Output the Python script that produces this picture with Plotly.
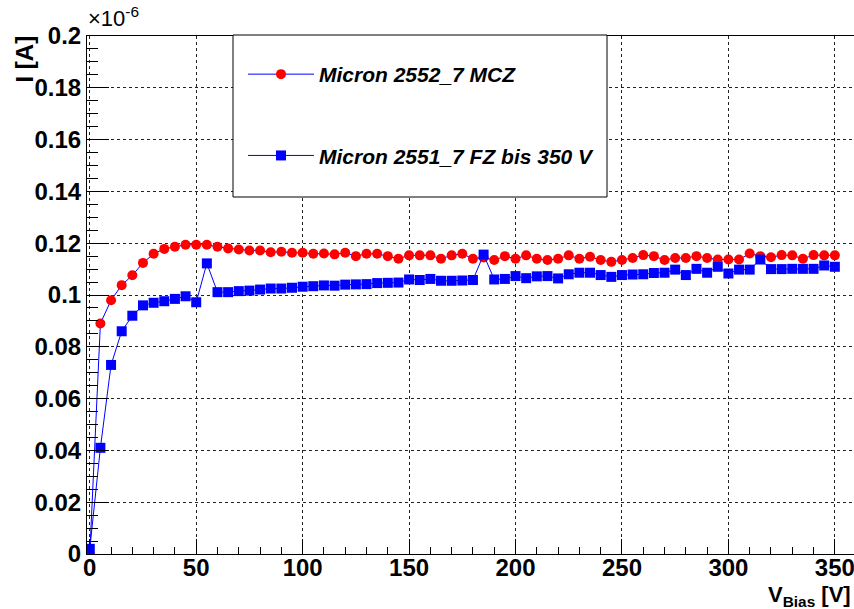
import plotly.graph_objects as go

# Bias voltage [V]
v_bias = list(range(0, 355, 5))

# Current in units of 1e-6 A
i_mcz = [0.000, 0.089, 0.098, 0.1038, 0.1076, 0.1124, 0.1159, 0.1178, 0.1186, 0.1194,
         0.1194, 0.1194, 0.1186, 0.1180, 0.1176, 0.1172, 0.1172, 0.1165, 0.1167, 0.1163,
         0.1163, 0.1159, 0.1160, 0.1157, 0.1163, 0.1150, 0.1159, 0.1159, 0.1150, 0.1140,
         0.1153, 0.1153, 0.1153, 0.1140, 0.1153, 0.1159, 0.1140, 0.1145, 0.1135, 0.1150,
         0.1140, 0.1153, 0.1140, 0.1135, 0.1140, 0.1153, 0.1140, 0.1148, 0.1135, 0.1128,
         0.1135, 0.1143, 0.1154, 0.1150, 0.1135, 0.1143, 0.1143, 0.1150, 0.1143, 0.1137,
         0.1137, 0.1137, 0.1160, 0.1150, 0.1146, 0.1154, 0.1153, 0.1140, 0.1154, 0.1153,
         0.1153]

i_fz = [0.002, 0.041, 0.073, 0.086, 0.092, 0.096, 0.097, 0.0976, 0.0985, 0.0995,
        0.0972, 0.1122, 0.1011, 0.1011, 0.1015, 0.1017, 0.1021, 0.1025, 0.1025, 0.1028,
        0.1032, 0.1034, 0.1037, 0.1036, 0.1040, 0.1041, 0.1042, 0.1046, 0.1047, 0.1048,
        0.1060, 0.1058, 0.1062, 0.1055, 0.1055, 0.1056, 0.1058, 0.1156, 0.1060, 0.1062,
        0.1073, 0.1065, 0.1072, 0.1073, 0.1064, 0.1080, 0.1086, 0.1086, 0.1077, 0.1070,
        0.1077, 0.1079, 0.1080, 0.1085, 0.1086, 0.1098, 0.1077, 0.1101, 0.1086, 0.1109,
        0.1083, 0.1098, 0.1098, 0.1137, 0.1100, 0.1100, 0.1101, 0.1101, 0.1101, 0.1114,
        0.1109]

series_names = ["Micron 2552_7 MCZ", "Micron 2551_7 FZ bis 350 V"]

y_tickvals = [0, 0.02, 0.04, 0.06, 0.08, 0.1, 0.12, 0.14, 0.16, 0.18, 0.2]
y_ticktext = ["0", "0.02", "0.04", "0.06", "0.08", "0.1", "0.12", "0.14", "0.16", "0.18", "0.2"]
x_tickvals = [0, 50, 100, 150, 200, 250, 300, 350]

FONT = "Liberation Sans"
W, H = 854, 609
ML, MR, MT, MB = 87, 0, 36, 55
PW, PH = W - ML - MR, H - MT - MB

def px_x(p):
    return (p - ML) / PW

def px_y(p):
    return (H - MB - p) / PH

fig = go.Figure()
fig.add_trace(go.Scatter(
    x=v_bias, y=i_mcz, name=series_names[0], legendgroup="a", mode="lines+markers",
    line=dict(color="#0000ff", width=1),
    marker=dict(symbol="circle", size=10, color="#ff0000", line=dict(width=0)),
))
fig.add_trace(go.Scatter(
    x=v_bias, y=i_fz, name=series_names[1], legendgroup="b", mode="lines+markers",
    line=dict(color="#0000ff", width=1),
    marker=dict(symbol="square", size=10, color="#0000ff", line=dict(width=0)),
))

tickfont = dict(family=FONT, size=24, color="black", weight="bold")

fig.update_layout(
    width=W, height=H,
    margin=dict(l=ML, r=MR, t=MT, b=MB, pad=0, autoexpand=False),
    paper_bgcolor="white", plot_bgcolor="white",
    showlegend=True,
    legend=dict(
        x=px_x(243), y=px_y(54), xanchor="left", yanchor="top",
        bgcolor="rgba(0,0,0,0)", borderwidth=0,
        font=dict(family=FONT, size=21, color="black", weight="bold", style="italic"),
        traceorder="grouped", tracegroupgap=51, itemwidth=66,
    ),
    xaxis=dict(
        range=[-1.3, 359.0], tickvals=x_tickvals,
        ticks="inside", ticklen=15, tickwidth=1, tickcolor="black",
        showline=True, linecolor="black", linewidth=1, mirror=True,
        showgrid=True, gridcolor="#222222", gridwidth=1, griddash="dot",
        zeroline=False, tickfont=tickfont, automargin=False, ticklabeloverflow="allow",
        ticklabelstandoff=-8,
        minor=dict(dtick=10, tick0=0, ticks="inside", ticklen=7, tickcolor="black", showgrid=False),
    ),
    yaxis=dict(
        range=[0, 0.2], tickvals=y_tickvals, ticktext=y_ticktext,
        ticks="inside", ticklen=22, tickwidth=1, tickcolor="black",
        showline=True, linecolor="black", linewidth=1, mirror=False,
        showgrid=True, gridcolor="#222222", gridwidth=1, griddash="dot",
        zeroline=False, tickfont=tickfont, automargin=False, ticklabeloverflow="allow",
        minor=dict(dtick=0.005, tick0=0, ticks="inside", ticklen=11, tickcolor="black", showgrid=False),
    ),
    shapes=[dict(
        type="rect", xref="paper", yref="paper",
        x0=px_x(233), x1=px_x(607), y0=px_y(197), y1=px_y(35),
        line=dict(color="black", width=1), fillcolor="white", layer="above",
    )],
    annotations=[
        dict(text="×10<sup>-6</sup>", xref="paper", yref="paper",
             x=px_x(86), y=px_y(33), xanchor="left", yanchor="bottom", showarrow=False,
             font=dict(family=FONT, size=22, color="black")),
        dict(text="<b>I [A]</b>", xref="paper", yref="paper", textangle=-90,
             x=px_x(24), y=px_y(34), xanchor="center", yanchor="top", showarrow=False,
             font=dict(family=FONT, size=24, color="black")),
        dict(text="<b>V<sub>Bias</sub> [V]</b>", xref="paper", yref="paper",
             x=px_x(853), y=px_y(580), xanchor="right", yanchor="top", showarrow=False,
             font=dict(family=FONT, size=22, color="black")),
    ],
)

fig.write_html("out.html", config={"displayModeBar": False},
               post_script="document.body.style.margin='0';")
